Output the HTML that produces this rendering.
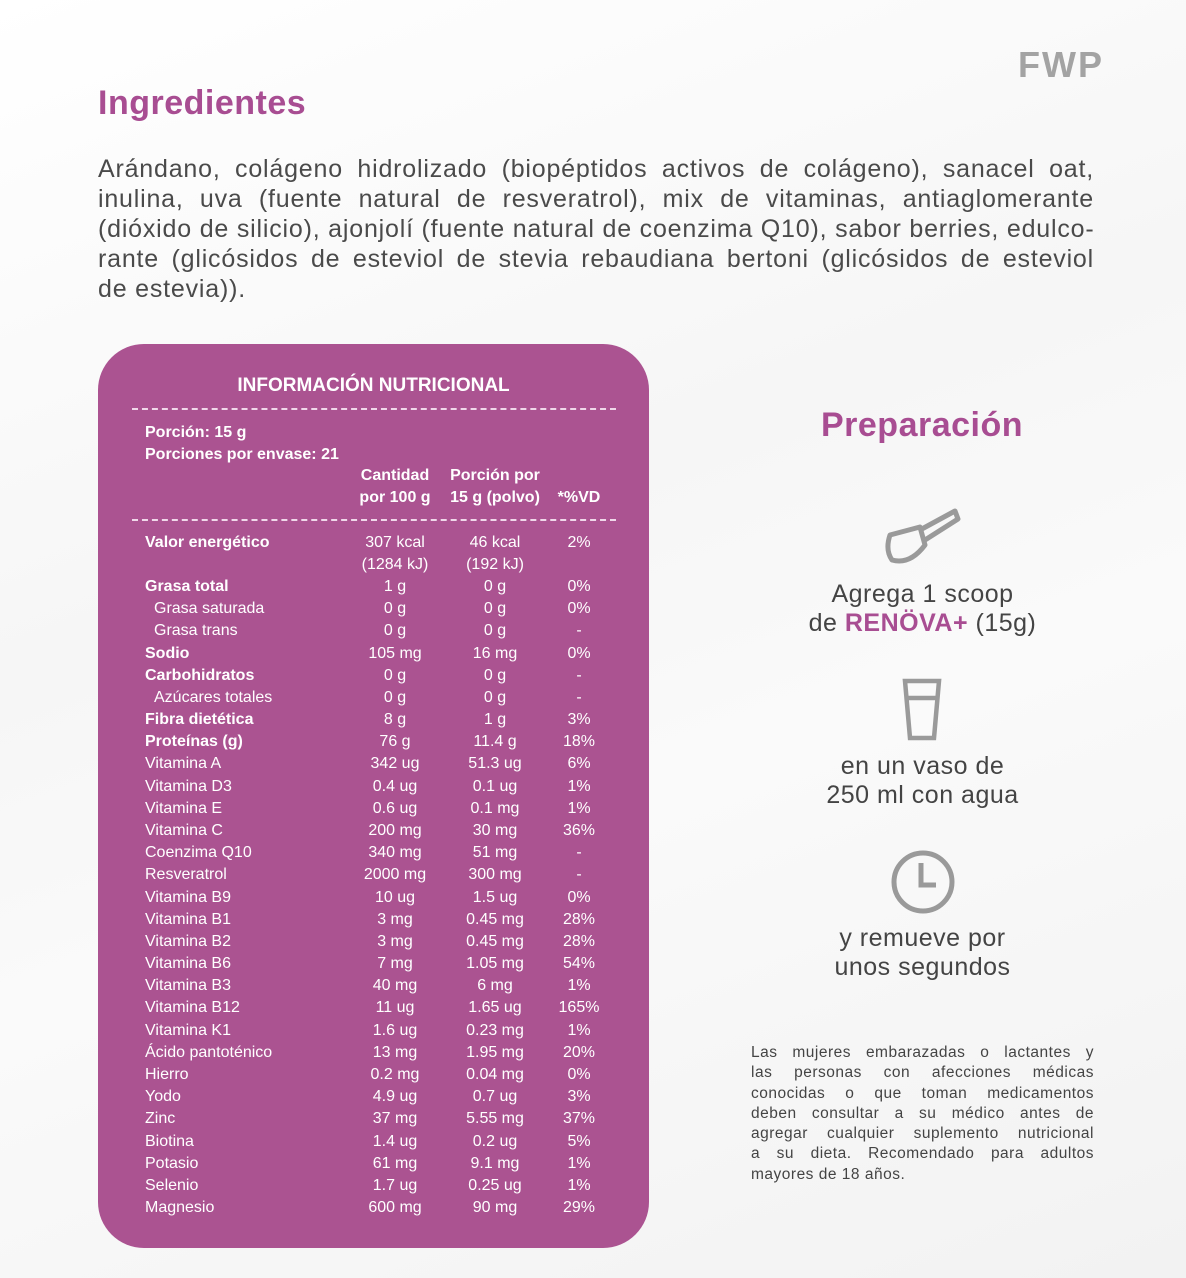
<!DOCTYPE html>
<html><head><meta charset="utf-8"><style>
body{margin:0;width:1186px;height:1278px;background:linear-gradient(160deg,#fff 0%,#f6f6f6 40%,#fafafa 60%,#f2f2f2 100%);font-family:"Liberation Sans",sans-serif;position:relative;overflow:hidden;color:#444}
.abs{position:absolute}
h1{position:absolute;left:98px;top:84px;margin:0;font-size:34px;color:#a84d92;font-weight:bold;letter-spacing:0.5px}
.ing{position:absolute;left:98px;top:154px;width:996px;font-size:25px;line-height:30px;color:#4a4a4a;letter-spacing:0.8px}
.ing div,.disc div{text-align:justify;text-align-last:justify;white-space:nowrap}
.ing div.last,.disc div.last{text-align-last:left}
.card{position:absolute;left:98px;top:344px;width:551px;height:904px;background:#ab5391;border-radius:46px;color:#fff}
.dash{position:absolute;left:34px;width:484px;border-top:2px dashed #f0d8ea}
.r{position:absolute;left:0;width:551px;height:22px;font-size:16px;line-height:22px}
.r span{position:absolute;top:0}
.l{left:47px}.c1{left:247px;width:100px;text-align:center}.c2{left:347px;width:100px;text-align:center}.c3{left:452px;width:58px;text-align:center}
.b{font-weight:bold}
.ind{left:56px}
.prep{position:absolute;left:760px;width:325px;text-align:center;font-size:25px;line-height:29px;color:#444;letter-spacing:0.5px}
.disc{position:absolute;left:751px;top:1043px;width:343px;font-size:15.5px;line-height:20.3px;color:#444;letter-spacing:0.5px}
</style></head><body>
<div class="abs" style="left:1018px;top:44px;font-size:36px;font-weight:bold;color:#a3a3a3;letter-spacing:2px">FWP</div>
<h1>Ingredientes</h1>
<div class="ing">
<div>Arándano, colágeno hidrolizado (biopéptidos activos de colágeno), sanacel oat,</div>
<div>inulina, uva (fuente natural de resveratrol), mix de vitaminas, antiaglomerante</div>
<div>(dióxido de silicio), ajonjolí (fuente natural de coenzima Q10), sabor berries, edulco-</div>
<div>rante (glicósidos de esteviol de stevia rebaudiana bertoni (glicósidos de esteviol</div>
<div class="last">de estevia)).</div>
</div>
<div class="card">
<div class="abs b" style="left:0;width:551px;text-align:center;top:31px;font-size:19px">INFORMACIÓN NUTRICIONAL</div>
<div class="dash" style="top:64px"></div>
<div class="abs b" style="left:47px;top:78px;font-size:16px;line-height:22px">Porción: 15 g<br>Porciones por envase: 21</div>
<div class="abs b" style="left:247px;width:100px;text-align:center;top:121px;font-size:16px;line-height:22px">Cantidad<br>por 100 g</div>
<div class="abs b" style="left:347px;width:100px;text-align:center;top:121px;font-size:16px;line-height:22px">Porción por<br>15 g (polvo)</div>
<div class="abs b" style="left:452px;width:58px;text-align:center;top:143px;font-size:16px;line-height:22px">*%VD</div>
<div class="dash" style="top:175px"></div>
<div class="r" style="top:188px;height:44px"><span class="l b">Valor energético</span><span class="c1">307 kcal<br>(1284 kJ)</span><span class="c2">46 kcal<br>(192 kJ)</span><span class="c3">2%</span></div>
<div id="rows"></div>
</div>
<svg class="abs" style="left:880px;top:505px" width="85" height="65" viewBox="0 0 85 65" fill="none" stroke="#9a9a9a" stroke-width="5" stroke-linejoin="round"><path d="M10 30 L40 22 L45 40 Q30 60 12 55 Q5 45 10 30Z"/><path d="M40 25 L75 6 L78 14 L45 35"/></svg>
<div class="abs" style="left:790px;top:406px;width:264px;text-align:center;font-size:34px;font-weight:bold;color:#a84d92;letter-spacing:0.5px">Preparación</div>
<div class="prep" style="top:580px">Agrega 1 scoop<br>de <b style="color:#a84d92">RENÖVA+</b> (15g)</div>
<svg class="abs" style="left:902px;top:678px" width="40" height="64" viewBox="0 0 40 64" fill="none" stroke="#9a9a9a" stroke-width="4.5"><path d="M3 3 H37 L32 60 H8 Z"/><path d="M5 20 H35"/></svg>
<div class="prep" style="top:752px">en un vaso de<br>250 ml con agua</div>
<svg class="abs" style="left:890px;top:849px" width="66" height="66" viewBox="0 0 66 66" fill="none" stroke="#9a9a9a" stroke-width="5"><circle cx="33" cy="33" r="29"/><path d="M31 14 V36 H46"/></svg>
<div class="prep" style="top:924px">y remueve por<br>unos segundos</div>
<div class="disc">
<div>Las mujeres embarazadas o lactantes y</div>
<div>las personas con afecciones médicas</div>
<div>conocidas o que toman medicamentos</div>
<div>deben consultar a su médico antes de</div>
<div>agregar cualquier suplemento nutricional</div>
<div>a su dieta. Recomendado para adultos</div>
<div class="last">mayores de 18 años.</div>
</div>
<script>
var d=[["Grasa total","1 g","0 g","0%",1],["Grasa saturada","0 g","0 g","0%",2],["Grasa trans","0 g","0 g","-",2],["Sodio","105 mg","16 mg","0%",1],["Carbohidratos","0 g","0 g","-",1],["Azúcares totales","0 g","0 g","-",2],["Fibra dietética","8 g","1 g","3%",1],["Proteínas (g)","76 g","11.4 g","18%",1],["Vitamina A","342 ug","51.3 ug","6%"],["Vitamina D3","0.4 ug","0.1 ug","1%"],["Vitamina E","0.6 ug","0.1 mg","1%"],["Vitamina C","200 mg","30 mg","36%"],["Coenzima Q10","340 mg","51 mg","-"],["Resveratrol","2000 mg","300 mg","-"],["Vitamina B9","10 ug","1.5 ug","0%"],["Vitamina B1","3 mg","0.45 mg","28%"],["Vitamina B2","3 mg","0.45 mg","28%"],["Vitamina B6","7 mg","1.05 mg","54%"],["Vitamina B3","40 mg","6 mg","1%"],["Vitamina B12","11 ug","1.65 ug","165%"],["Vitamina K1","1.6 ug","0.23 mg","1%"],["Ácido pantoténico","13 mg","1.95 mg","20%"],["Hierro","0.2 mg","0.04 mg","0%"],["Yodo","4.9 ug","0.7 ug","3%"],["Zinc","37 mg","5.55 mg","37%"],["Biotina","1.4 ug","0.2 ug","5%"],["Potasio","61 mg","9.1 mg","1%"],["Selenio","1.7 ug","0.25 ug","1%"],["Magnesio","600 mg","90 mg","29%"]];
var h="";d.forEach(function(r,i){var t=232+i*22.18;var c=r[4]==1?"l b":(r[4]==2?"l ind":"l");h+='<div class="r" style="top:'+t+'px"><span class="'+c+'">'+r[0]+'</span><span class="c1">'+r[1]+'</span><span class="c2">'+r[2]+'</span><span class="c3">'+r[3]+'</span></div>';});
document.getElementById("rows").innerHTML=h;
</script>
</body></html>
